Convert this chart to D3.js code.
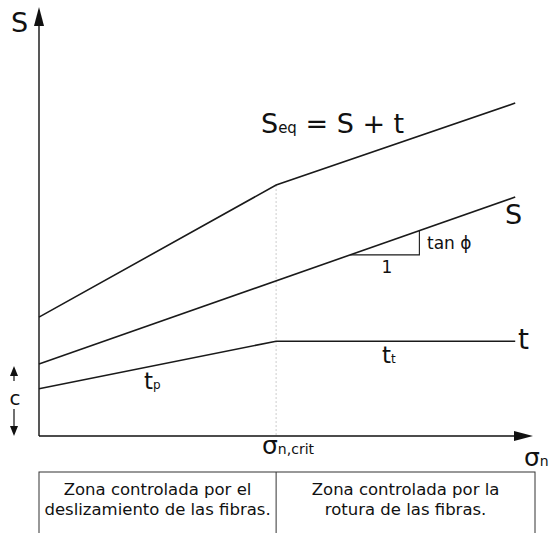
<!DOCTYPE html>
<html>
<head>
  <meta charset="utf-8">
  <script src="https://d3js.org/d3.v7.min.js"></script>
</head>
<style>
  body { margin: 0; background: #fff; }
  svg { width: 550px; height: 533px; display: block; }
  text { font-family: "DejaVu Sans", Verdana, sans-serif; fill: #111; }
  .curve { fill: none; stroke: #1a1a1a; stroke-width: 1.6px; }
  .axis { stroke: #111; stroke-width: 1.4px; }
  .crit { stroke: #ccc; stroke-width: 1px; stroke-dasharray: 2,2; }
  .box { fill: none; stroke: #333; stroke-width: 1px; }
</style>
<body>
  <svg id="chart"></svg>
  <script>
    // values in arbitrary units (0..100 on both axes)
    const sigmaCrit = 48;
    const sigmaEnd = 96.4;
    const seqPts = [[0, 27.7], [sigmaCrit, 58.5], [sigmaEnd, 77.6]];
    const sPts = [[0, 16.8], [sigmaEnd, 55.7]];
    const tPts = [[0, 11.0], [sigmaCrit, 22.1], [sigmaEnd, 22.1]];
    const zoneLabels = [
      ["Zona controlada por el", "deslizamiento de las fibras."],
      ["Zona controlada por la", "rotura de las fibras."]
    ];

    const svg = d3.select("#chart");
    const x = d3.scaleLinear().domain([0, 100]).range([39, 533]);
    const y = d3.scaleLinear().domain([0, 100]).range([436, 7]);
    const line = d3.line().x(d => x(d[0])).y(d => y(d[1]));

    // dotted line at sigma crit
    svg.append("line").attr("class", "crit")
      .attr("x1", x(sigmaCrit)).attr("x2", x(sigmaCrit))
      .attr("y1", y(58.5)).attr("y2", y(0));

    // axes
    svg.append("line").attr("class", "axis")
      .attr("x1", x(0)).attr("x2", x(0)).attr("y1", y(0)).attr("y2", y(100) + 10);
    svg.append("path").attr("d", `M${x(0)},${y(100)} l-5,19 l10,0 z`).attr("fill", "#111");
    svg.append("line").attr("class", "axis")
      .attr("x1", x(0)).attr("x2", x(100) - 10).attr("y1", y(0)).attr("y2", y(0));
    svg.append("path").attr("d", `M${x(100)},${y(0)} l-19,-5 l0,10 z`).attr("fill", "#111");

    [seqPts, sPts, tPts].forEach(p => {
      svg.append("path").attr("class", "curve").attr("d", line(p));
    });

    // slope triangle on S
    const sAt = v => sPts[0][1] + (sPts[1][1] - sPts[0][1]) * v / sigmaEnd;
    const t0 = 63, t1 = 77;
    svg.append("path").attr("class", "curve")
      .attr("d", `M${x(t0)},${y(sAt(t0))} H${x(t1)} V${y(sAt(t1))}`)
      .style("stroke-width", "1.1px");

    // c arrows
    svg.append("line").attr("stroke", "#111").attr("stroke-width", 1.2)
      .attr("x1", 14).attr("x2", 14).attr("y1", 372).attr("y2", 381);
    svg.append("path").attr("d", "M14,366 l-4,10 l8,0 z").attr("fill", "#111");
    svg.append("line").attr("stroke", "#111").attr("stroke-width", 1.2)
      .attr("x1", 14).attr("x2", 14).attr("y1", 409).attr("y2", 428);
    svg.append("path").attr("d", "M14,436 l-4,-10 l8,0 z").attr("fill", "#111");
    svg.append("text").attr("x", 15).attr("y", 405).attr("text-anchor", "middle")
      .style("font-size", "20px").text("c");

    function label(px, py, main, sub, size, subSize, anchor) {
      const t = svg.append("text").attr("x", px).attr("y", py)
        .attr("text-anchor", anchor || "start").style("font-size", size + "px");
      t.append("tspan").text(main);
      if (sub) t.append("tspan").style("font-size", subSize + "px").text(sub);
      return t;
    }

    label(11, 32, "S", null, 27);
    const seq = label(261, 133, "S", "eq", 27, 15);
    seq.append("tspan").text(" = S + t");
    label(505, 224, "S", null, 27);
    label(427, 249, "tan ϕ", null, 17);
    label(x((t0 + t1) / 2) + 2, 273, "1", null, 17, null, "middle");
    label(518, 349, "t", null, 28);
    label(382, 363, "t", "t", 23, 12);
    label(144, 389, "t", "p", 23, 12);
    label(262, 454, "σ", "n,crit", 25, 14);
    label(524, 466, "σ", "n", 25, 14);

    // zone box
    const bx = x(0), bxr = 535, by = 472;
    svg.append("rect").attr("class", "box")
      .attr("x", bx).attr("y", by).attr("width", bxr - bx).attr("height", 80);
    svg.append("line").attr("class", "box")
      .attr("x1", x(sigmaCrit)).attr("x2", x(sigmaCrit)).attr("y1", by).attr("y2", 540);
    const centers = [(bx + x(sigmaCrit)) / 2, (x(sigmaCrit) + bxr) / 2];
    zoneLabels.forEach((lines, i) => {
      lines.forEach((s, j) => {
        svg.append("text").attr("x", centers[i]).attr("y", 495 + j * 20)
          .attr("text-anchor", "middle").style("font-size", "16.5px").text(s);
      });
    });
  </script>
</body>
</html>
